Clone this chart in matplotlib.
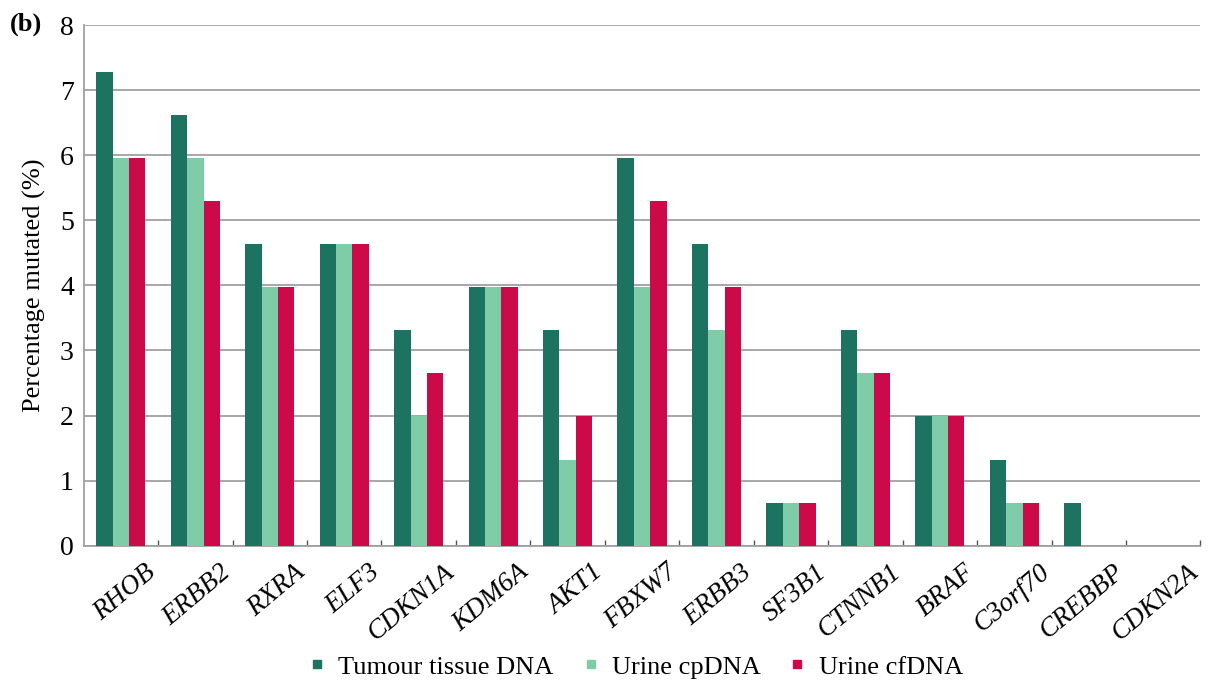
import numpy as np
import matplotlib.pyplot as plt
from matplotlib.lines import Line2D
from matplotlib.ticker import FixedLocator
from matplotlib.transforms import ScaledTranslation

plt.rcParams['font.family'] = ['Liberation Serif', 'DejaVu Serif']

genes = ['RHOB', 'ERBB2', 'RXRA', 'ELF3', 'CDKN1A', 'KDM6A', 'AKT1', 'FBXW7',
         'ERBB3', 'SF3B1', 'CTNNB1', 'BRAF', 'C3orf70', 'CREBBP', 'CDKN2A']
tumour = [7.28, 6.62, 4.64, 4.64, 3.31, 3.97, 3.31, 5.96, 4.64, 0.66, 3.31, 1.99, 1.32, 0.66, 0]
cpdna = [5.96, 5.96, 3.97, 4.64, 1.99, 3.97, 1.32, 3.97, 3.31, 0.66, 2.65, 1.99, 0.66, 0, 0]
cfdna = [5.96, 5.30, 3.97, 4.64, 2.65, 3.97, 1.99, 5.30, 3.97, 0.66, 2.65, 1.99, 0.66, 0, 0]
series_names = ['Tumour tissue DNA', 'Urine cpDNA', 'Urine cfDNA']
colors = ['#1b7360', '#7fcca8', '#cc0a4a']

fig = plt.figure(figsize=(12.3, 6.82), dpi=100)
ax = fig.add_axes([0.068, 0.2, 0.908, 0.763])

x = np.arange(len(genes))
w = 0.22
for i, (vals, c) in enumerate(zip([tumour, cpdna, cfdna], colors)):
    ax.bar(x + (i - 1) * w, vals, width=w, color=c, zorder=3)

ax.set_xlim(-0.5, len(genes) - 0.5)
ax.set_ylim(0, 8)
ax.set_yticks(range(9))
ax.yaxis.grid(True, color='#a0a0a0', linewidth=1.3, zorder=0)
ax.set_axisbelow(True)

for s in ['top', 'right']:
    ax.spines[s].set_visible(False)
for s in ['left', 'bottom']:
    ax.spines[s].set_color('#a0a0a0')
    ax.spines[s].set_linewidth(1.3)

ax.tick_params(axis='y', length=0, labelsize=20, pad=7)
ax.set_xticks(x)
ax.set_xticklabels(genes, rotation=40, ha='right', va='top', rotation_mode='anchor',
                   fontsize=19.5, style='italic')
ax.tick_params(axis='x', length=0, pad=10)
# push the slanted names a little to the right of their group
shift = ScaledTranslation(24 / 100, 0, fig.dpi_scale_trans)
for lbl in ax.get_xticklabels():
    lbl.set_transform(lbl.get_transform() + shift)

# small marks between the gene groups
ax.xaxis.set_minor_locator(FixedLocator(np.arange(0.5, len(genes), 1)))
ax.tick_params(axis='x', which='minor', direction='in', length=4, color='#555555', width=1)

ax.set_ylabel('Percentage mutated (%)', fontsize=19, labelpad=10)
fig.text(0.008, 0.955, '(b)', fontsize=19, fontweight='bold')

handles = [Line2D([], [], marker='s', linestyle='', markersize=6, color=c) for c in colors]
fig.legend(handles, series_names, loc='lower center', bbox_to_anchor=(0.515, -0.03),
           ncol=3, frameon=False, fontsize=19, handletextpad=0.3, columnspacing=0.9,
           handlelength=1.0)

fig.savefig('out.png', dpi=100)
